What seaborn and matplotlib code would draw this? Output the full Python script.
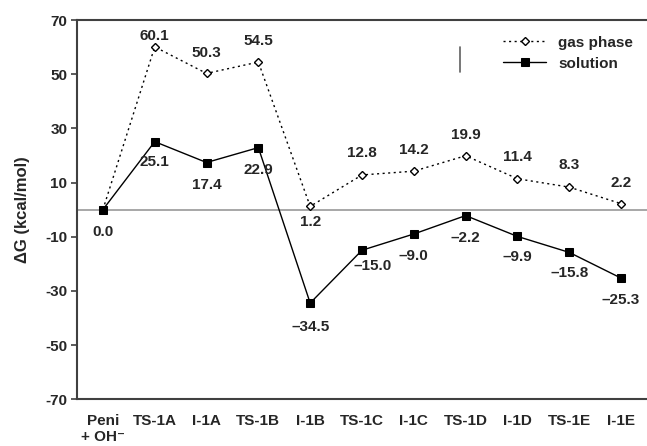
import matplotlib
matplotlib.use("Agg")
import matplotlib.pyplot as plt
import numpy as np
import pandas as pd
import seaborn as sns

states = ["Peni\n+ OH\u207b", "TS-1A", "I-1A", "TS-1B", "I-1B", "TS-1C",
          "I-1C", "TS-1D", "I-1D", "TS-1E", "I-1E"]
gas_phase = [0.0, 60.1, 50.3, 54.5, 1.2, 12.8, 14.2, 19.9, 11.4, 8.3, 2.2]
solution = [0.0, 25.1, 17.4, 22.9, -34.5, -15.0, -9.0, -2.2, -9.9, -15.8, -25.3]
y_ticks = [-70, -50, -30, -10, 10, 30, 50, 70]

# label offsets in points (dx, dy); gas labels above, solution below
gas_offsets = [None, (0, 8), (0, 15), (0, 15), (0, -11.5), (0, 16),
               (0, 15), (0, 15), (0, 16), (0, 16), (0, 15)]
sol_offsets = [(0, -16), (0, -15), (0, -16), (0, -16), (0, -17), (8, -11),
               (0, -16), (0, -16), (0, -15), (0, -15), (0, -16)]

sns.set_style("white")
plt.rcParams["font.family"] = ["Liberation Sans", "DejaVu Sans"]
plt.rcParams["font.weight"] = "bold"
FS = 11

df = pd.DataFrame({"pos": np.arange(len(states)), "gas": gas_phase, "sol": solution})

fig, ax = plt.subplots(figsize=(6.47, 4.46), dpi=100)
fig.subplots_adjust(left=0.119, right=1.0, top=0.955, bottom=0.105)

ax.axhline(0, color="#a0a0a0", lw=1.3, zorder=1)

sns.lineplot(data=df, x="pos", y="gas", ax=ax, color="black", lw=1.0,
             linestyle=(0, (1.5, 2.5)), marker="D", markersize=4.5,
             markerfacecolor="white", markeredgecolor="black", markeredgewidth=1.0,
             label="gas phase", zorder=3)
sns.lineplot(data=df, x="pos", y="sol", ax=ax, color="black", lw=1.0,
             marker="s", markersize=6, markerfacecolor="black",
             markeredgecolor="black", label="solution", zorder=3)

def fmt(v):
    s = f"{abs(v):.1f}"
    return ("\u2013" + s) if v < 0 else s

for i, v in enumerate(gas_phase):
    if gas_offsets[i] is None:
        continue
    ax.annotate(fmt(v), (i, v), xytext=gas_offsets[i], textcoords="offset points",
                ha="center", va="center", fontsize=FS, fontweight="bold")
for i, v in enumerate(solution):
    ax.annotate(fmt(v), (i, v), xytext=sol_offsets[i], textcoords="offset points",
                ha="center", va="center", fontsize=FS, fontweight="bold")

# stray mark in the original figure
ax.plot([0.672, 0.672], [0.929, 0.863], transform=ax.transAxes,
        color="#606060", lw=1.2)

ax.set_xlim(-0.5, len(states) - 0.5)
ax.set_ylim(-70, 70)
ax.set_xticks(range(len(states)))
ax.set_xticklabels(states, fontsize=FS, fontweight="bold", linespacing=1.1)
ax.set_yticks(y_ticks)
ax.set_yticklabels([str(t) for t in y_ticks], fontsize=FS, fontweight="bold")
ax.tick_params(axis="y", length=4, width=1.2, color="#404040", pad=3, left=True)
ax.tick_params(axis="x", length=0, pad=11)
ax.set_xlabel("")
ax.set_ylabel("\u0394G (kcal/mol)", fontsize=12, fontweight="bold", labelpad=11)

for side in ["left", "bottom", "top"]:
    ax.spines[side].set_color("#404040")
    ax.spines[side].set_linewidth(1.5)
ax.spines["right"].set_visible(False)

ax.legend(loc="upper right", bbox_to_anchor=(1.0, 0.995), frameon=False,
          handlelength=2.8, handletextpad=0.8, labelspacing=0.45,
          prop={"weight": "bold", "size": FS})

fig.savefig("out.png", dpi=100)
